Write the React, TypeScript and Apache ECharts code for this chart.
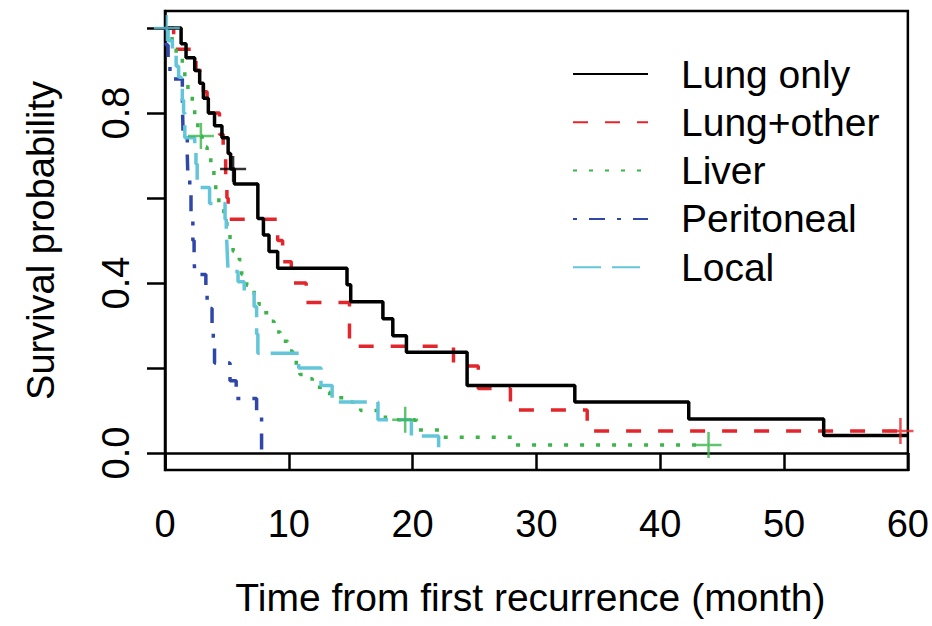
import React, { useEffect, useRef } from "react";
import * as echarts from "echarts";

// ---- Data ----
const seriesNames = ["Lung only", "Lung+other", "Liver", "Peritoneal", "Local"];

const lungOnlyT = [0, 1.3, 1.7, 2.4, 2.8, 3.1, 3.5, 4.0, 4.6, 5.1, 5.3, 5.6, 7.5, 7.95, 8.4, 9.1, 14.7, 15.0, 17.6, 18.4, 19.5, 24.4, 33.1, 42.3, 53.2, 60];
const lungOnlyS = [1, 0.963, 0.93, 0.9, 0.87, 0.835, 0.8, 0.77, 0.742, 0.705, 0.668, 0.633, 0.552, 0.513, 0.474, 0.435, 0.396, 0.356, 0.316, 0.276, 0.237, 0.159, 0.12, 0.08, 0.041, 0.041];
const lungOnlyCensorT = [5.5];
const lungOnlyCensorS = [0.668];

const lungOtherT = [0, 0.7, 2.5, 3.1, 3.4, 4.4, 4.7, 4.9, 5.0, 5.1, 9.1, 9.5, 10.2, 11.4, 14.9, 23.3, 25.3, 27.9, 34.1, 59.4];
const lungOtherS = [1, 0.95, 0.9, 0.85, 0.8, 0.75, 0.7, 0.65, 0.6, 0.55, 0.5, 0.45, 0.4, 0.354, 0.251, 0.205, 0.152, 0.101, 0.052, 0.052];
const lungOtherCensorT = [59.4];
const lungOtherCensorS = [0.052];

const liverT = [0, 0.57, 0.9, 1.4, 1.6, 1.85, 2.2, 2.4, 2.65, 3.0, 3.4, 3.7, 3.95, 4.1, 4.35, 4.75, 5.0, 5.25, 5.5, 6.0, 6.2, 6.6, 7.2, 7.6, 8.0, 8.5, 8.8, 9.3, 9.9, 10.3, 10.6, 10.9, 11.3, 11.9, 12.7, 13.3, 14.5, 15.2, 15.8, 17.8, 20.2, 22.4, 28.1, 43.9];
const liverS = [1, 0.96, 0.94, 0.9, 0.87, 0.84, 0.81, 0.79, 0.746, 0.72, 0.7, 0.68, 0.65, 0.62, 0.59, 0.56, 0.53, 0.5, 0.475, 0.455, 0.42, 0.395, 0.37, 0.35, 0.33, 0.31, 0.285, 0.263, 0.24, 0.22, 0.2, 0.185, 0.175, 0.155, 0.143, 0.13, 0.12, 0.11, 0.1, 0.078, 0.054, 0.037, 0.019, 0.019];
const liverCensorT = [2.9, 19.4, 43.9];
const liverCensorS = [0.746, 0.078, 0.019];

const peritonealT = [0, 0.1, 0.25, 0.4, 1.4, 1.42, 1.44, 1.46, 1.8, 1.85, 2.0, 2.1, 2.25, 2.35, 2.4, 3.3, 3.4, 3.8, 3.9, 4.0, 5.25, 5.75, 7.4, 7.8];
const peritonealS = [1, 0.96, 0.92, 0.88, 0.84, 0.8, 0.78, 0.742, 0.7, 0.65, 0.61, 0.56, 0.5, 0.46, 0.42, 0.38, 0.34, 0.29, 0.25, 0.212, 0.17, 0.128, 0.085, 0];

const localT = [0, 0.25, 0.6, 0.9, 1.1, 1.3, 1.4, 1.5, 1.6, 2.4, 2.5, 2.6, 3.6, 4.85, 4.95, 5.0, 5.05, 5.1, 5.9, 6.4, 7.2, 7.4, 7.5, 10.8, 12.6, 13.5, 17.2, 19.9, 22.1];
const localS = [1, 0.97, 0.94, 0.91, 0.885, 0.86, 0.83, 0.8, 0.742, 0.71, 0.68, 0.625, 0.587, 0.55, 0.52, 0.49, 0.455, 0.427, 0.403, 0.38, 0.345, 0.28, 0.235, 0.2, 0.159, 0.12, 0.078, 0.04, 0];
const localCensorT = [0.15];
const localCensorS = [1.0];

const xTicks = [0, 10, 20, 30, 40, 50, 60];
const yTickValues = [0, 0.2, 0.4, 0.6, 0.8, 1.0];
const yLabelValues = [0, 0.4, 0.8];

const xTitle = "Time from first recurrence (month)";
const yTitle = "Survival probability";

function pairs(t: number[], s: number[]) {
  return t.map((v, i) => [v, s[i]]);
}

export default function App() {
  const ref = useRef<HTMLDivElement>(null);

  useEffect(() => {
    if (!ref.current) return;
    const chart = echarts.init(ref.current, null, { renderer: "svg" });
    const font = "Liberation Sans, Arial, Helvetica, sans-serif";
    const colors = ["#000000", "#e3262b", "#3bb54a", "#2f47a8", "#63c5da"];
    const dashes: any[] = ["solid", [15, 17], [4, 12], [4, 12, 16, 12], [28, 11]];
    const lineData = [
      pairs(lungOnlyT, lungOnlyS),
      pairs(lungOtherT, lungOtherS),
      pairs(liverT, liverS),
      pairs(peritonealT, peritonealS),
      pairs(localT, localS),
    ];
    const censorData = [
      pairs(lungOnlyCensorT, lungOnlyCensorS),
      pairs(lungOtherCensorT, lungOtherCensorS),
      pairs(liverCensorT, liverCensorS),
      [],
      pairs(localCensorT, localCensorS),
    ];
    const plus = "path://M12,0L12,24M0,12L24,12";

    const series: any[] = [];
    seriesNames.forEach((name, i) => {
      series.push({
        type: "line",
        name,
        data: lineData[i],
        step: "end",
        symbol: "none",
        showSymbol: false,
        silent: true,
        clip: true,
        z: 3 + (i === 0 ? 1 : 0),
        lineStyle: { color: colors[i], width: 3.5, type: dashes[i], cap: "butt" },
        itemStyle: { color: colors[i] },
      });
    });
    seriesNames.forEach((name, i) => {
      if (!censorData[i].length) return;
      series.push({
        type: "scatter",
        name: name + " (censored)",
        data: censorData[i],
        symbol: plus,
        symbolSize: 26,
        silent: true,
        z: 5,
        itemStyle: { color: "transparent", borderColor: colors[i], borderWidth: 2.5 },
      });
    });

    chart.setOption({
      animation: false,
      backgroundColor: "#ffffff",
      textStyle: { fontFamily: font },
      grid: {
        left: 165,
        right: 24,
        top: 11,
        bottom: 156,
        show: true,
        borderColor: "#000",
        borderWidth: 2.5,
        backgroundColor: "transparent",
      },
      legend: {
        data: seriesNames,
        orient: "vertical",
        left: 572,
        top: 54,
        padding: 0,
        itemWidth: 75,
        itemHeight: 4,
        itemGap: 8.3,
        selectedMode: false,
        itemStyle: { opacity: 0 },
        textStyle: {
          fontSize: 39,
          color: "#000",
          fontFamily: font,
          lineHeight: 40,
          padding: [0, 0, 0, 28],
        },
      },
      xAxis: {
        type: "value",
        min: xTicks[0],
        max: xTicks[xTicks.length - 1],
        interval: xTicks[1] - xTicks[0],
        axisLine: { show: true, lineStyle: { color: "#000", width: 2.5 } },
        axisTick: { show: true, inside: false, length: 18, lineStyle: { color: "#000", width: 2.5 } },
        axisLabel: { fontSize: 38, color: "#000", fontFamily: font, margin: 35 },
        splitLine: { show: false },
        name: xTitle,
        nameLocation: "middle",
        nameGap: 108,
        nameTextStyle: { fontSize: 39, color: "#000", fontFamily: font, padding: [0, 12, 0, 0] },
      },
      yAxis: {
        type: "value",
        min: -0.04,
        max: 1.04,
        axisLine: { show: true, lineStyle: { color: "#000", width: 2.5 } },
        axisTick: {
          show: true,
          inside: false,
          length: 18,
          customValues: yTickValues,
          lineStyle: { color: "#000", width: 2.5 },
        },
        axisLabel: {
          customValues: yLabelValues,
          rotate: 90,
          fontSize: 38,
          color: "#000",
          fontFamily: font,
          margin: 30,
          formatter: (v: number) => v.toFixed(1),
        },
        splitLine: { show: false },
        name: yTitle,
        nameLocation: "middle",
        nameRotate: 90,
        nameGap: 105,
        nameTextStyle: { fontSize: 38, color: "#000", fontFamily: font },
      },
      series,
    });

    return () => {
      chart.dispose();
    };
  }, []);

  return (
    <div
      ref={ref}
      style={{ position: "fixed", left: 0, top: 0, width: 932, height: 626, background: "#fff" }}
    />
  );
}
